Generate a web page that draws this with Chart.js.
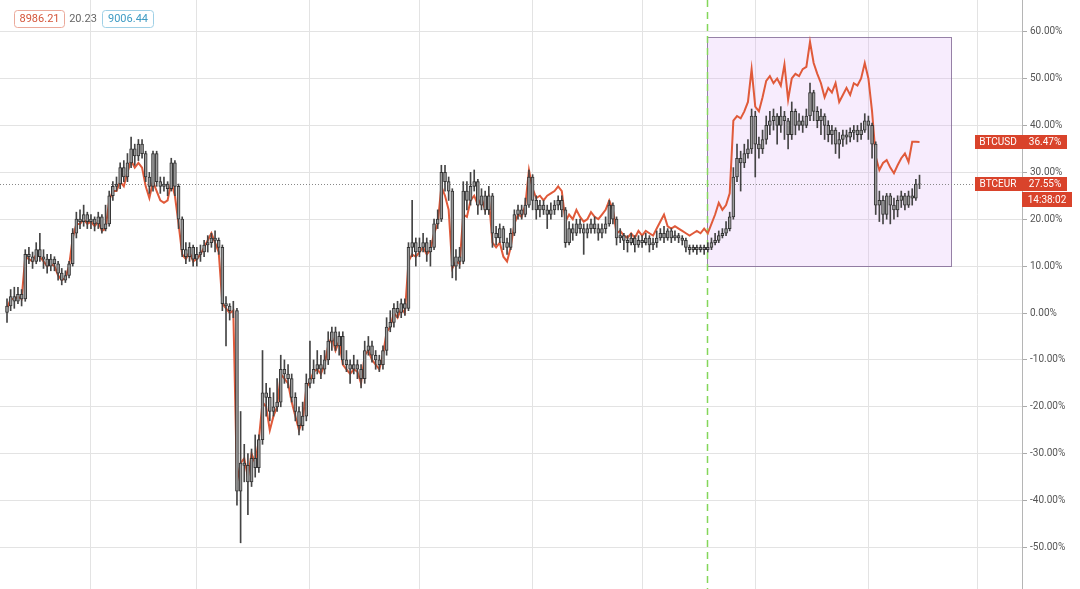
<!DOCTYPE html>
<html>
<head>
<meta charset="utf-8">
<script src="https://cdn.jsdelivr.net/npm/chart.js@4"></script>
<style>
  html, body { margin: 0; padding: 0; background: #fff; }
  canvas { display: block; }
</style>
</head>
<body>
<canvas id="chart" width="1080" height="589"></canvas>
<script>
// BTCEUR daily candles, % change from first open (index 0 = 9 Jan 2020)
const eurOpen = [
  0, 1.5, 3.5, 2.5, 4, 3, 12.5, 12, 11, 13.5,
  12, 11.5, 10, 11.5, 10.5, 8.5, 7, 8, 10.5, 17,
  20, 19.5, 21, 19.5, 20, 19, 20.5, 18, 19, 25,
  27, 27.5, 31, 29, 32, 35, 33.5, 36, 34, 29,
  27, 34, 28, 27, 27.5, 26.5, 32, 27, 20, 13.5,
  12, 14, 11.5, 12.5, 13, 14.5, 15, 16, 15.5, 14,
  2, 1.5, 0.5, 0.5, -38, -32, -32.5, -36, -31, -33,
  -27, -17, -18, -21, -20, -19, -12, -13, -14, -18,
  -21, -24, -22, -15, -14, -12, -11, -12, -10, -6,
  -4, -7, -5, -10, -11, -12, -11, -12, -14, -8,
  -7, -9, -10, -11, -8, -3, -2, 1, 0, 2,
  1, 14, 15, 13, 14, 15, 13, 14, 19, 20,
  30, 28, 26, 10, 12, 11, 26, 24, 27, 28,
  23, 25, 22, 25, 17, 16, 18, 15, 14, 17,
  21, 22, 21, 23, 29, 24, 22, 23, 22, 21,
  22, 23, 24, 22, 15, 18, 17, 19, 18, 17,
  18, 19, 18, 17, 18, 19, 23, 20, 16, 16.5,
  15.5, 15, 16, 14.5, 15.5, 15, 16, 14.5, 15, 16,
  17, 16, 17.5, 16, 16.5, 16, 15.5, 14, 13.5, 14,
  13.5, 14, 13.5, 14, 15, 15.5, 16.5, 17, 18, 20.5,
  29, 33, 32, 34, 35, 42, 36, 35, 37, 40,
  41, 42, 40, 42, 41, 38, 43, 40, 41, 40,
  42, 47, 43, 41, 42, 40, 38, 39, 36, 37,
  38, 37.5, 38.5, 39, 38, 39, 41, 40, 36, 23,
  24, 21, 25, 23, 22, 24, 25, 23, 25, 24.5,
  27.5
];
const eurHigh = [
  3, 5, 5.5, 5.5, 5, 13.5, 14, 13, 15, 17,
  13.5, 12.5, 12.5, 12, 11, 9.5, 9, 11, 18, 21.5,
  22, 23, 21.5, 21, 20.5, 21.5, 21, 23, 26, 28,
  29, 32, 32.5, 34, 37.5, 36, 37, 37, 34.5, 30,
  34.5, 34.5, 29, 29, 28, 33, 32.5, 27.5, 20.5, 15,
  15, 14.5, 14, 14.5, 15.5, 16.5, 17, 17.5, 16, 14.5,
  3.5, 2, 2.5, 1, -21, -28, -30, -29, -26, -26,
  -8, -15, -16, -17, -14, -9, -10, -11, -13, -17,
  -20, -19, -13, -6, -10, -8, -9, -8, -4, -3,
  -3, -4, -4, -8, -10, -9, -10, -11, -6, -5,
  -6, -8, -9, -7, -1, 0.5, 2, 2.5, 3, 3,
  15, 24, 16, 16, 17, 16, 15.5, 20, 22, 31.5,
  31.5, 29, 26.5, 13.5, 14, 28, 28, 30, 30.5, 28.5,
  26.5, 26, 27, 25.5, 18.5, 19, 18.5, 16, 18, 22,
  23, 23, 24.5, 30.5, 29.5, 25, 24, 24, 23, 23.5,
  24, 25, 25, 22.5, 19.5, 19, 20, 20, 19, 19,
  20, 20.5, 19, 19, 20.5, 24, 23.5, 20.5, 18, 17,
  16.5, 17, 16.5, 16.5, 16.5, 17, 16.5, 16, 17.5, 18,
  18.5, 18, 18, 17.5, 17, 16.5, 16, 14.5, 14.5, 14.5,
  14.5, 14.5, 15, 16, 17, 17.5, 18, 19.5, 21.5, 31,
  36, 34.5, 36, 37, 43.5, 43, 37.5, 39, 42, 43,
  43.5, 42.5, 44, 43, 41.5, 45, 43.5, 42.5, 42, 43.5,
  49, 47.5, 44, 43.5, 42.5, 41, 40, 39.5, 38.5, 39,
  39, 39.5, 40, 40, 40.5, 42.5, 42, 40.5, 36.5, 26,
  25, 25.5, 25.5, 24.5, 25, 26, 25.5, 26, 26.5, 28.5,
  29.4
];
const eurLow = [
  -2, 0.5, 1, 2, 1.5, 2.5, 10.5, 9.5, 10.5, 11,
  9.5, 8.5, 9, 9, 7, 6, 6.5, 7.5, 10, 16,
  18, 18.5, 18, 18, 17.5, 18, 17, 17.5, 18.5, 24,
  26, 26.5, 28, 28, 31, 31.5, 32.5, 33, 28, 25.5,
  26, 27, 25.5, 26, 25, 26, 25, 18, 12, 10.5,
  11, 10, 10, 11, 12, 13, 14, 13, 12.5, 0.5,
  -7, -1.5, -1, -41, -49, -36, -43, -37, -35, -34,
  -28, -22, -23, -22, -21, -20, -15, -16, -19, -23,
  -26, -25, -23, -16, -15, -13, -14, -13, -11, -8,
  -8, -9, -11, -12.5, -15, -13, -14, -16, -15, -9,
  -10.5, -12, -12.5, -12, -9, -4, -3, -1, -1, -0.5,
  0.5, 12, 10, 12, 13, 11, 10, 13.5, 18, 19.5,
  26, 24, 7.5, 7, 9.5, 10.5, 22, 23, 26, 21,
  22, 21, 21, 14, 14.5, 15, 13.5, 12.5, 13.5, 16.5,
  20, 20, 20.5, 22.5, 22, 20, 20.5, 21, 18, 20,
  21, 22, 20.5, 14, 14.5, 15.5, 16.5, 17, 12.5, 16,
  17, 17, 15.5, 16, 17, 18.5, 19, 14.5, 15, 13.5,
  13, 14.5, 13, 14, 14, 14.5, 13, 13.5, 14, 15.5,
  15, 15.5, 15, 15.5, 15, 14.5, 13, 12.5, 13, 12.5,
  13, 12.5, 13, 13.5, 14.5, 15, 16, 16.5, 17.5, 20,
  28, 26, 31, 33, 34, 29, 33, 34, 36, 38,
  39, 36, 38.5, 37, 35, 37, 38, 39, 38.5, 39.5,
  41, 41, 39.5, 38, 37, 36.5, 36, 34, 33, 35.5,
  36, 36.5, 37, 36.5, 37, 38.5, 37, 33, 21, 19.5,
  19, 20, 19, 20, 20.5, 22.5, 22, 22.5, 23, 24,
  26.5
];
const eurClose = [
  1.5, 3.5, 2.5, 4, 3, 12.5, 12, 11, 13.5, 12,
  11.5, 10, 11.5, 10.5, 8.5, 7, 8, 10.5, 17, 20,
  19.5, 21, 19.5, 20, 19, 20.5, 18, 19, 25, 27,
  27.5, 31, 29, 32, 35, 33.5, 36, 34, 29, 27,
  34, 28, 27, 27.5, 26.5, 32, 27, 20, 13.5, 12,
  14, 11.5, 12.5, 13, 14.5, 15, 16, 15.5, 14, 2,
  1.5, 0.5, 0.5, -38, -32, -32.5, -36, -31, -33, -27,
  -17, -18, -21, -20, -19, -12, -13, -14, -18, -21,
  -24, -22, -15, -14, -12, -11, -12, -10, -6, -4,
  -7, -5, -10, -11, -12, -11, -12, -14, -8, -7,
  -9, -10, -11, -8, -3, -2, 1, 0, 2, 1,
  14, 15, 13, 14, 15, 13, 14, 19, 20, 30,
  28, 26, 10, 12, 11, 26, 24, 27, 28, 23,
  25, 22, 25, 17, 16, 18, 15, 14, 17, 21,
  22, 21, 23, 29, 24, 22, 23, 22, 21, 22,
  23, 24, 22, 15, 18, 17, 19, 18, 17, 18,
  19, 18, 17, 18, 19, 23, 20, 16, 16.5, 15.5,
  15, 16, 14.5, 15.5, 15, 16, 14.5, 15, 16, 17,
  16, 17.5, 16, 16.5, 16, 15.5, 14, 13.5, 14, 13.5,
  14, 13.5, 14, 15, 15.5, 16.5, 17, 18, 20.5, 29,
  33, 32, 34, 35, 42, 36, 35, 37, 40, 41,
  42, 40, 42, 41, 38, 43, 40, 41, 40, 42,
  47, 43, 41, 42, 40, 38, 39, 36, 37, 38,
  37.5, 38.5, 39, 38, 39, 41, 40, 36, 23, 24,
  21, 25, 23, 22, 24, 25, 23, 25, 24.5, 27.5,
  27.55
];
// BTCUSD compare line, % change
const usdClose = [
  1, 3, 3, 3.5, 3, 12, 11.5, 11, 12.5, 12,
  11, 10, 10.5, 10, 8, 7, 7.5, 10, 16, 19,
  19, 20, 19, 19.5, 18.5, 19.5, 17.5, 18, 24, 26,
  26, 28, 27, 30, 32.5, 31, 32, 31, 27, 24.5,
  28, 26, 24, 23.5, 24, 28, 25, 19, 12.5, 11.5,
  13, 11, 11.5, 12.5, 14, 15.5, 17, 15, 13, 2,
  1, 0, 0.5, -36, -32, -31, -35, -30, -32, -27,
  -19, -20, -25, -22, -20, -13, -14, -15, -19, -22,
  -25, -23, -16, -14.5, -12.5, -12, -13, -11, -7, -5,
  -8, -6, -11, -12, -13, -12, -12.5, -15, -9, -8,
  -10, -11, -12, -9, -4, -3, 0, -1, 1, 0,
  11, 12.5, 12, 13, 14, 12.5, 13.5, 17, 19, 27,
  25, 22, 9.5, 11, 10.5, 21, 20.5, 24, 25, 23,
  24.5, 22, 24.5, 15, 14, 15, 12, 11, 14, 19,
  21, 20.5, 23, 30.5, 26.5, 24.5, 25, 24, 25, 25.5,
  26, 27, 26, 19.5, 21, 20, 22, 20.5, 19.5, 20,
  21.5, 20.5, 20, 21, 22, 24, 22, 17, 17.5, 16.5,
  16, 17, 16, 17.5, 16.5, 17.5, 17, 16.5, 18, 19.5,
  21, 18.5, 18, 18.5, 18, 17.5, 17, 16.5, 17, 17.5,
  17, 18, 17, 19, 21, 23.5, 22, 23, 25.5, 41,
  42, 41.5, 43, 45, 52, 44, 43, 46, 49.5, 50.5,
  49, 50, 48.5, 53, 45.5, 50, 51, 50.5, 52, 52.5,
  57.8, 53.3, 51, 49, 46, 48, 47, 49, 45, 46.5,
  48, 46.5, 49, 48.5, 50, 53.3, 50, 43, 33.3, 30.5,
  32, 32.6, 31, 29.8, 31.5, 33, 34, 32.2, 36.5, 36.5,
  36.47
];

const monthStarts = [23, 52, 83, 113, 144, 174, 205, 236, 266]; // 1 Feb .. 1 Oct
const yTicks = [-50, -40, -30, -20, -10, 0, 10, 20, 30, 40, 50, 60];
const lastEur = 27.55;
const lastUsd = 36.47;
const clockText = '14:38:02';
const legendValues = ['8986.21', '20.23', '9006.44'];
const markerIndex = 191.8;                 // dashed vertical line
const rangeBox = [191.8, 258.6, 10, 58.85]; // from, to, low %, high %

const FONT = 'Roboto, "Open Sans", sans-serif';
const RED = '#e05a3a';
const TAG = '#d9432b';

const wicks = eurHigh.map((h, i) => ({ x: i, y: [eurLow[i], h] }));
const bodies = eurClose.map((c, i) => ({ x: i, y: [eurOpen[i], c] }));
const usdLine = usdClose.map((v, i) => ({ x: i, y: v }));

function roundRect(ctx, x, y, w, h, r) {
  ctx.beginPath();
  ctx.moveTo(x + r, y);
  ctx.arcTo(x + w, y, x + w, y + h, r);
  ctx.arcTo(x + w, y + h, x, y + h, r);
  ctx.arcTo(x, y + h, x, y, r);
  ctx.arcTo(x, y, x + w, y, r);
  ctx.closePath();
}

const overlays = {
  id: 'overlays',
  beforeDatasetsDraw(chart) {
    const { ctx, chartArea, scales: { x, y } } = chart;
    ctx.save();
    // highlighted range
    const bx0 = Math.round(x.getPixelForValue(rangeBox[0])) + 0.5;
    const bx1 = Math.round(x.getPixelForValue(rangeBox[1])) + 0.5;
    const by0 = Math.round(y.getPixelForValue(rangeBox[3])) + 0.5;
    const by1 = Math.round(y.getPixelForValue(rangeBox[2])) + 0.5;
    ctx.fillStyle = 'rgba(218, 170, 248, 0.22)';
    ctx.fillRect(bx0, by0, bx1 - bx0, by1 - by0);
    ctx.strokeStyle = 'rgba(125, 100, 145, 0.8)';
    ctx.lineWidth = 1;
    ctx.strokeRect(bx0, by0, bx1 - bx0, by1 - by0);
    // last price dotted line
    const ly = Math.round(y.getPixelForValue(lastEur)) + 0.5;
    ctx.setLineDash([1, 2]);
    ctx.strokeStyle = '#888';
    ctx.beginPath();
    ctx.moveTo(chartArea.left, ly);
    ctx.lineTo(chartArea.right, ly);
    ctx.stroke();
    // green dashed vertical
    const gx = Math.round(x.getPixelForValue(markerIndex)) + 0.5;
    ctx.setLineDash([7, 5]);
    ctx.strokeStyle = '#84d65a';
    ctx.lineWidth = 1.5;
    ctx.beginPath();
    ctx.moveTo(gx, chartArea.top);
    ctx.lineTo(gx, chartArea.bottom);
    ctx.stroke();
    ctx.restore();
  },
  afterDraw(chart) {
    const { ctx, chartArea, scales: { y } } = chart;
    const right = chartArea.right;
    ctx.save();
    ctx.font = '10px ' + FONT;
    ctx.textBaseline = 'middle';
    ctx.textAlign = 'center';

    function tag(name, value, v) {
      const cy = Math.round(y.getPixelForValue(v));
      ctx.fillStyle = TAG;
      ctx.fillRect(right - 47, cy - 7, 92, 14);
      ctx.fillStyle = '#fff';
      ctx.fillText(name, right - 24, cy + 0.5);
      ctx.fillText(value, right + 23, cy + 0.5);
      return cy;
    }
    tag('BTCUSD', lastUsd.toFixed(2) + '%', lastUsd);
    const ey = tag('BTCEUR', lastEur.toFixed(2) + '%', lastEur);
    ctx.fillStyle = TAG;
    ctx.fillRect(right, ey + 8, 50, 15);
    ctx.fillStyle = '#fff';
    ctx.fillText(clockText, right + 25, ey + 16);

    // top legend
    ctx.font = '11px ' + FONT;
    ctx.textAlign = 'center';
    ctx.lineWidth = 1;
    ctx.fillStyle = '#fff';
    roundRect(ctx, 14.5, 10.5, 50, 17, 3);
    ctx.fill();
    ctx.strokeStyle = '#eba99a';
    ctx.stroke();
    ctx.fillStyle = '#d4553a';
    ctx.fillText(legendValues[0], 39.5, 19.5);
    ctx.fillStyle = '#666';
    ctx.fillText(legendValues[1], 83, 19.5);
    ctx.fillStyle = '#fff';
    roundRect(ctx, 102.5, 10.5, 51, 17, 3);
    ctx.fill();
    ctx.strokeStyle = '#9fd0e6';
    ctx.stroke();
    ctx.fillStyle = '#3f9cc4';
    ctx.fillText(legendValues[2], 128, 19.5);
    ctx.restore();
  }
};

new Chart(document.getElementById('chart'), {
  data: {
    datasets: [
      {
        type: 'line',
        label: 'BTCUSD',
        data: usdLine,
        borderColor: RED,
        borderWidth: 2,
        pointRadius: 0,
        tension: 0,
        order: 2
      },
      {
        type: 'bar',
        label: 'BTCEUR body',
        data: bodies,
        backgroundColor: '#9b9b9b',
        borderColor: '#333',
        borderWidth: 1,
        borderSkipped: false,
        barThickness: 3,
        grouped: false,
        order: 0
      },
      {
        type: 'bar',
        label: 'BTCEUR wick',
        data: wicks,
        backgroundColor: '#444',
        barThickness: 1,
        grouped: false,
        order: 1
      }
    ]
  },
  options: {
    responsive: false,
    animation: false,
    devicePixelRatio: 1,
    layout: { padding: 0 },
    plugins: { legend: { display: false }, tooltip: { enabled: false } },
    scales: {
      x: {
        type: 'linear',
        min: -1.92,
        max: 278.08,
        offset: false,
        afterBuildTicks: (scale) => { scale.ticks = monthStarts.map(v => ({ value: v })); },
        afterFit: (scale) => { scale.height = 0; scale.paddingLeft = 0; scale.paddingRight = 0; },
        ticks: { display: false },
        grid: { color: '#e3e3e3', drawTicks: false, offset: false },
        border: { display: false }
      },
      y: {
        type: 'linear',
        position: 'right',
        min: -58.85,
        max: 66.74,
        afterBuildTicks: (scale) => { scale.ticks = yTicks.map(v => ({ value: v })); },
        afterFit: (scale) => { scale.width = 58; scale.paddingTop = 0; scale.paddingBottom = 0; },
        ticks: {
          callback: (v) => v.toFixed(2) + '%',
          color: '#555',
          font: { family: FONT, size: 10 },
          padding: 3
        },
        grid: { color: '#e3e3e3', tickLength: 5, tickColor: '#aaa' },
        border: { color: '#b5b5b5' }
      }
    }
  },
  plugins: [overlays]
});
</script>
</body>
</html>
